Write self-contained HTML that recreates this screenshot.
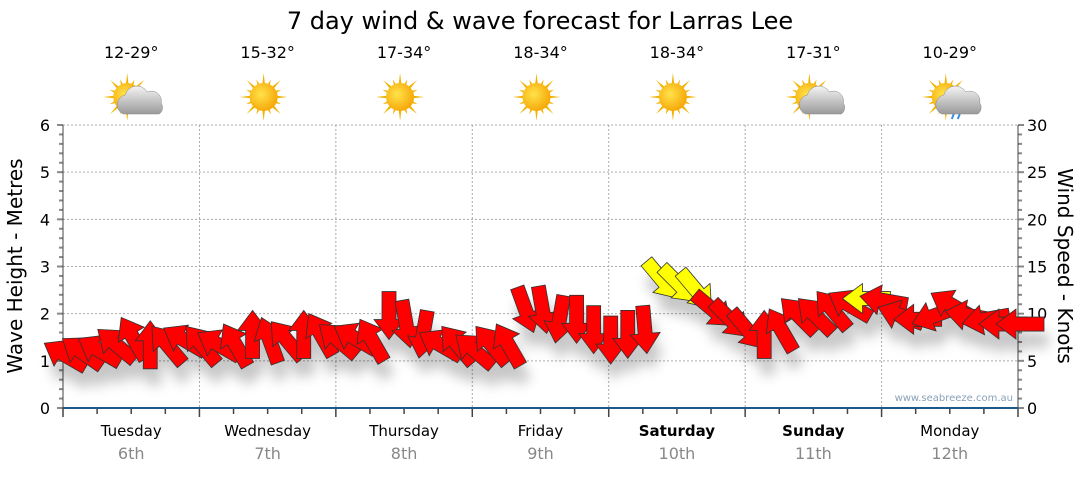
<!DOCTYPE html>
<html><head><meta charset="utf-8">
<style>
body{margin:0;background:#fff;}
svg text{font-family:"DejaVu Sans","Liberation Sans",sans-serif;}
</style></head>
<body>
<svg id="chart" width="1080" height="475" viewBox="0 0 1080 475" xmlns="http://www.w3.org/2000/svg">
<defs>
<radialGradient id="sunG" cx="0.4" cy="0.4" r="0.7"><stop offset="0" stop-color="#ffe34a"/><stop offset="1" stop-color="#f5a000"/></radialGradient>
<linearGradient id="cloudG" x1="0" y1="0" x2="0" y2="1"><stop offset="0" stop-color="#f4f4f4"/><stop offset="1" stop-color="#9a9a9a"/></linearGradient>
<filter id="shadow" x="-50%" y="-50%" width="200%" height="250%"><feDropShadow dx="4" dy="16" stdDeviation="6" flood-color="#000" flood-opacity="0.22"/></filter>
</defs>
<text x="540" y="29" text-anchor="middle" font-size="24" fill="#000">7 day wind &amp; wave forecast for Larras Lee</text>
<g id="grid"></g>
<g id="axes"></g>
<g id="icons"></g>
<g id="arrows" filter="url(#shadow)"></g>
<text transform="translate(22,266) rotate(-90)" text-anchor="middle" font-size="20">Wave Height - Metres</text>
<text transform="translate(1058,266) rotate(90)" text-anchor="middle" font-size="20">Wind Speed - Knots</text>
<text x="1013" y="401" text-anchor="end" font-size="10" fill="#8aa0b8">www.seabreeze.com.au</text>
</svg>
<script>
const days=["Tuesday","Wednesday","Thursday","Friday","Saturday","Sunday","Monday"];
const dates=["6th","7th","8th","9th","10th","11th","12th"];
const temps=["12-29°","15-32°","17-34°","18-34°","18-34°","17-31°","10-29°"];
const weather=["cloudsun","sun","sun","sun","sun","cloudsun","rain"];
const waveTicks=[0,1,2,3,4,5,6];
const windTicks=[0,5,10,15,20,25,30];
const windKnots=[5.6,5.9,6.1,6.7,7.4,6.7,6.7,7.2, 6.7,6.7,6.7,7.8,7.2,7.2,7.8,7.8, 7.2,7.4,7.2,9.8,8.9,7.8,6.7,6.7, 6.1,6.7,6.7,10.4,10.4,9.4,9.4,8.3, 7.2,7.8,8.3,13.6,13.1,12.5,10.4,9.4, 8.3,7.8,8.3,9.8,9.8,10.4,10.9,11.6, 11.4,9.8,9.4,9.8,10.9,9.8,9.4,8.9,8.9];
const windDir=[300,305,300,310,330,0,320,300, 320,300,330,0,340,320,0,330, 310,300,330,180,170,190,300,320, 310,320,330,160,170,190,180,180, 180,180,175,140,135,140,130,135, 140,0,330,315,315,320,300,270, 280,290,270,250,300,280,260,270,270];
const windColor=["r","r","r","r","r","r","r","r", "r","r","r","r","r","r","r","r", "r","r","r","r","r","r","r","r", "r","r","r","r","r","r","r","r", "r","r","r","y","y","y","r","r", "r","r","r","r","r","r","r","y", "r","r","r","r","r","r","r","r","r"];

const NS="http://www.w3.org/2000/svg";
const X0=63,X1=1018,Y0=408,Y1=125;
const xDay=d=>X0+d*(X1-X0)/7;
const xIdx=i=>X0+i*(X1-X0)/56;
const yWave=v=>Y0-v*(Y0-Y1)/6;
const yWind=v=>Y0-v*(Y0-Y1)/30;
function mk(tag,attrs,parent){const e=document.createElementNS(NS,tag);for(const k in attrs)e.setAttribute(k,attrs[k]);parent.appendChild(e);return e;}
const grid=document.getElementById('grid'),axes=document.getElementById('axes'),icons=document.getElementById('icons'),arrows=document.getElementById('arrows');

waveTicks.forEach(v=>{
  if(v>0){const l=mk('line',{x1:X0,x2:X1,y1:yWave(v),y2:yWave(v),stroke:'#aaa','stroke-dasharray':'2,2'},grid);
  }
  const t=mk('text',{x:50,y:yWave(v)+6,'text-anchor':'end','font-size':16},axes);t.textContent=v;
  
});
windTicks.forEach(v=>{
  const t=mk('text',{x:1027,y:yWind(v)+6,'text-anchor':'start','font-size':16},axes);t.textContent=v;
  
});
for(let k=0;k<=30;k++){
  const y=Y0-k*(Y0-Y1)/30;
  mk('line',{x1:X0-(k%5?4:6),x2:X0,y1:y,y2:y,stroke:'#888','stroke-width':2},axes);
  mk('line',{x1:X1,x2:X1+(k%5?4:6),y1:y,y2:y,stroke:'#888','stroke-width':2},axes);
}
for(let d=1;d<7;d++){
  const l=mk('line',{x1:xDay(d),x2:xDay(d),y1:Y1,y2:Y0,stroke:'#aaa','stroke-dasharray':'2,2'},grid);
  
}
for(let k=0;k<=28;k++){const x=X0+k*(X1-X0)/28;mk('line',{x1:x,x2:x,y1:Y0,y2:Y0+(k%4?6:9),stroke:'#444','stroke-width':1.5},axes);}
mk('line',{x1:X0,x2:X0,y1:Y1,y2:Y0,stroke:'#444'},axes);
mk('line',{x1:X1,x2:X1,y1:Y1,y2:Y0,stroke:'#444'},axes);
const base=mk('line',{x1:X0,x2:X1,y1:Y0,y2:Y0,stroke:'#1a5a8a','stroke-width':2},axes);


function sun(g,cx,cy){
  for(let a=0;a<16;a++){const ang=a*Math.PI/8,len=a%2?19:24;
    const p=[[cx+Math.cos(ang)*len,cy+Math.sin(ang)*len],[cx+Math.cos(ang+0.12)*12,cy+Math.sin(ang+0.12)*12],[cx+Math.cos(ang-0.12)*12,cy+Math.sin(ang-0.12)*12]];
    mk('polygon',{points:p.map(q=>q.join(',')).join(' '),fill:'#f2b200'},g);}
  mk('circle',{cx:cx,cy:cy,r:14,fill:'url(#sunG)'},g);
}
function cloud(g,cx,cy){
  mk('path',{d:`M${cx-18},${cy+15} a10,10 0 0,1 2,-19 a12,12 0 0,1 22,-3 a10,10 0 0,1 14,11 a8,8 0 0,1 -2,11 z`,fill:'url(#cloudG)',stroke:'#888','stroke-width':0.5},g);
}
days.forEach((d,i)=>{
  const cx=(xDay(i)+xDay(i+1))/2;
  const t=mk('text',{x:cx,y:58,'text-anchor':'middle','font-size':16},axes);t.textContent=temps[i];
  
  const g=mk('g',{},icons);
  
  sun(g,cx-4,97);
  if(weather[i]!=='sun')cloud(g,cx+10,99);
  if(weather[i]==='rain'){mk('path',{d:`M${cx+4},114 l-2,5 M${cx+10},114 l-2,5`,stroke:'#3a8de0','stroke-width':2},g);}
  const dn=mk('text',{x:cx,y:436,'text-anchor':'middle','font-size':15,'font-weight':(i==4||i==5)?'bold':'normal'},axes);dn.textContent=d;
  
  const dt=mk('text',{x:cx,y:459,'text-anchor':'middle','font-size':16,fill:'#888'},axes);dt.textContent=dates[i];
  
});
windKnots.forEach((v,i)=>{
  const x=xIdx(i)+2,y=yWind(v);
  const L=24,sw=7,hw=15,hl=20;
  const pts=[[-sw,L],[sw,L],[sw,-L+hl],[hw,-L+hl],[0,-L],[-hw,-L+hl],[-sw,-L+hl]];
  const p=mk('polygon',{points:pts.map(q=>q.join(',')).join(' '),transform:`translate(${x},${y}) rotate(${windDir[i]})`,fill:windColor[i]==='y'?'#ffff00':'#ff0000',stroke:'#333','stroke-width':0.8},arrows);
  
  
});
</script>
</body></html>
